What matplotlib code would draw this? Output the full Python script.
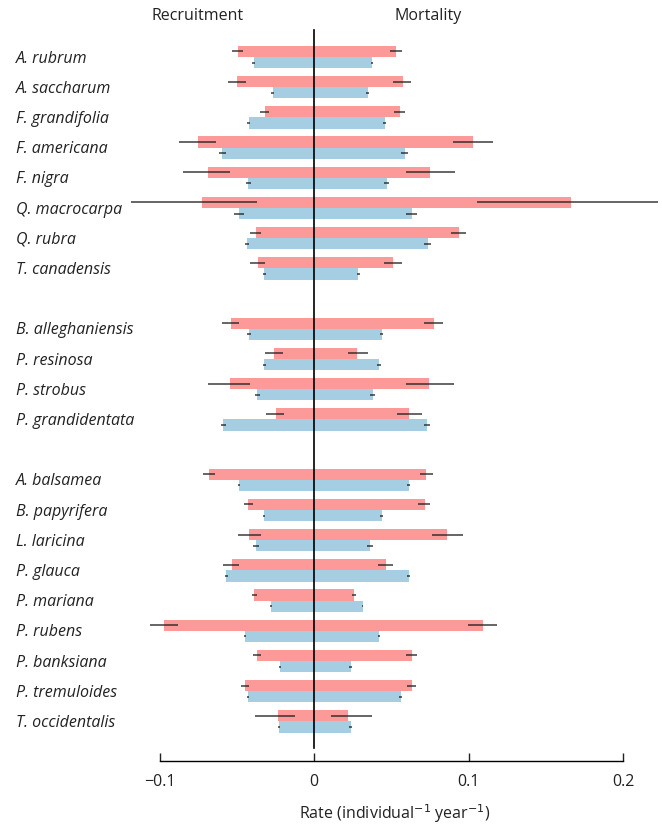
import numpy as np
import matplotlib
matplotlib.use('Agg')
import matplotlib.pyplot as plt
from matplotlib.transforms import blended_transform_factory

plt.rcParams['font.family'] = ['Open Sans', 'DejaVu Sans']

# species in three groups (a blank row between groups)
groups = [
    ['A. rubrum', 'A. saccharum', 'F. grandifolia', 'F. americana', 'F. nigra',
     'Q. macrocarpa', 'Q. rubra', 'T. canadensis'],
    ['B. alleghaniensis', 'P. resinosa', 'P. strobus', 'P. grandidentata'],
    ['A. balsamea', 'B. papyrifera', 'L. laricina', 'P. glauca', 'P. mariana',
     'P. rubens', 'P. banksiana', 'P. tremuloides', 'T. occidentalis'],
]

# recent period (pink)
rec_new = [0.0495, 0.050, 0.0317, 0.0751, 0.0686, 0.0723, 0.0374, 0.036,
           0.0537, 0.0258, 0.0542, 0.0244,
           0.0679, 0.0426, 0.0419, 0.053, 0.0386, 0.097, 0.0367, 0.0444, 0.023]
rec_new_err_in = [0.0037, 0.0057, 0.0027, 0.0116, 0.0142, 0.0351, 0.0034, 0.0046,
                  0.0053, 0.006, 0.013, 0.0053,
                  0.0039, 0.0033, 0.0077, 0.0046, 0.0014, 0.0091, 0.0025, 0.0023, 0.0104]
rec_new_err_out = [0.0033, 0.0055, 0.0033, 0.0121, 0.0161, 0.046, 0.0038, 0.0052,
                   0.0058, 0.0061, 0.0144, 0.0065,
                   0.004, 0.003, 0.0074, 0.0058, 0.0014, 0.009, 0.0031, 0.003, 0.0149]
mort_new = [0.053, 0.0574, 0.0555, 0.1028, 0.0749, 0.1663, 0.0937, 0.0509,
            0.0774, 0.0281, 0.0742, 0.0612,
            0.0723, 0.0716, 0.0858, 0.0463, 0.0256, 0.1093, 0.0633, 0.0633, 0.0223]
mort_new_err_in = [0.0038, 0.006, 0.0036, 0.0128, 0.0156, 0.0607, 0.0053, 0.0058,
                   0.006, 0.006, 0.0149, 0.0077,
                   0.0039, 0.0042, 0.0093, 0.0047, 0.0013, 0.0098, 0.0035, 0.0031, 0.0116]
mort_new_err_out = [0.0038, 0.0054, 0.0032, 0.013, 0.0163, 0.0607, 0.0047, 0.0058,
                    0.0063, 0.007, 0.0167, 0.0088,
                    0.0044, 0.0037, 0.0105, 0.0049, 0.0013, 0.0093, 0.0034, 0.003, 0.0151]

# historical period (blue)
rec_old = [0.039, 0.0268, 0.0423, 0.0595, 0.0426, 0.0484, 0.0433, 0.0321,
           0.0419, 0.0321, 0.0367, 0.0588,
           0.0484, 0.0321, 0.0374, 0.0567, 0.0277, 0.0444, 0.0219, 0.0426, 0.0226]
rec_old_err = [0.001, 0.0008, 0.001, 0.0023, 0.0017, 0.0032, 0.0015, 0.001,
               0.0012, 0.0012, 0.0015, 0.0017,
               0.0008, 0.0007, 0.0019, 0.0012, 0.0005, 0.0007, 0.0008, 0.0008, 0.0008]
mort_old = [0.0374, 0.0347, 0.0459, 0.0586, 0.047, 0.0633, 0.0735, 0.0288,
            0.0437, 0.0419, 0.0379, 0.073,
            0.0612, 0.0437, 0.0365, 0.0612, 0.0314, 0.0419, 0.0237, 0.056, 0.0237]
mort_old_err = [0.0008, 0.0008, 0.001, 0.0023, 0.0017, 0.0036, 0.002, 0.001,
                0.0012, 0.0012, 0.0015, 0.002,
                0.0008, 0.0007, 0.002, 0.0012, 0.0005, 0.0007, 0.0008, 0.0008, 0.0008]

PINK = '#fb9a99'
BLUE = '#a6cee3'
H = 0.37

species = []
pos = []
row = 0
for g in groups:
    for s in g:
        species.append(s)
        pos.append(row)
        row += 1
    row += 1
pos = np.array(pos, dtype=float)

fig = plt.figure(figsize=(6.62, 8.25), dpi=100)
W, Hpx = 662, 825
ax = fig.add_axes([131 / W, 1 - 761 / Hpx, (658 - 131) / W, (761 - 30) / Hpx])

y_new = pos - H / 2
y_old = pos + H / 2

ax.barh(y_new, -np.array(rec_new), height=H, color=PINK, lw=0)
ax.barh(y_new, mort_new, height=H, color=PINK, lw=0)
ax.barh(y_old, -np.array(rec_old), height=H, color=BLUE, lw=0)
ax.barh(y_old, mort_old, height=H, color=BLUE, lw=0)

ekw = dict(fmt='none', ecolor='#1a1a1a', elinewidth=1.1, capsize=0, alpha=0.85)
# for recruitment (negative side) the "outer" error goes to the left
ax.errorbar(-np.array(rec_new), y_new, xerr=[rec_new_err_out, rec_new_err_in], **ekw)
ax.errorbar(mort_new, y_new, xerr=[mort_new_err_in, mort_new_err_out], **ekw)
ax.errorbar(-np.array(rec_old), y_old, xerr=rec_old_err, **ekw)
ax.errorbar(mort_old, y_old, xerr=mort_old_err, **ekw)

ax.set_xlim((131 - 314) / 1545, (658 - 314) / 1545)
ax.set_ylim((761 - 57) / 30.2, (30 - 57) / 30.2)

# zero line
ax.plot([0, 0], [(30 - 57) / 30.2, (748 - 57) / 30.2], color='black', lw=1.2, clip_on=False)

for side in ['left', 'right', 'top']:
    ax.spines[side].set_visible(False)
ax.spines['bottom'].set_bounds(-0.1, 0.2)
ax.spines['bottom'].set_linewidth(1.0)
ax.set_yticks([])
ax.set_xticks([-0.1, 0, 0.1, 0.2])
ax.set_xticklabels(['\u22120.1', '0', '0.1', '0.2'])
ax.tick_params(axis='x', direction='in', length=6, width=1.0, labelsize=11.5,
               pad=9, colors='#222222')
ax.set_xlabel('Rate (individual$^{-1}$ year$^{-1}$)', fontsize=11.5, labelpad=9,
              color='#222222')

# species labels
tr = blended_transform_factory(fig.transFigure, ax.transData)
for s, p in zip(species, pos):
    ax.text(16 / W, p + 0.05, s, transform=tr, ha='left', va='center', fontsize=11.5,
            style='italic', color='#222222')

fig.text(198 / W, 1 - 16 / Hpx, 'Recruitment', ha='center', va='center',
         fontsize=11.5, color='#222222')
fig.text(428 / W, 1 - 16 / Hpx, 'Mortality', ha='center', va='center',
         fontsize=11.5, color='#222222')

fig.savefig('out.png', dpi=100)
